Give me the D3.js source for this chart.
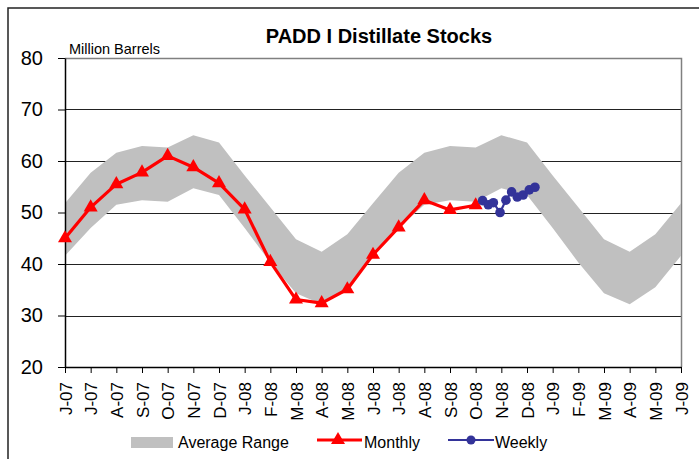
<!DOCTYPE html>
<head>
  <meta charset="utf-8">
  <script src="https://d3js.org/d3.v7.min.js"></script>
  <style>
    body { margin: 0; background: #fff; }
    svg { width: 699px; height: 459px; display: block; }
    text { font-family: "Liberation Sans", Arial, Helvetica, sans-serif; fill: #000; }
  </style>
</head>

<body>
  <svg></svg>

  <script>
    // month labels along the x axis (Jun-07 .. Jun-09)
    const months = ['J-07', 'J-07', 'A-07', 'S-07', 'O-07', 'N-07', 'D-07',
      'J-08', 'F-08', 'M-08', 'A-08', 'M-08', 'J-08', 'J-08', 'A-08', 'S-08',
      'O-08', 'N-08', 'D-08', 'J-09', 'F-09', 'M-09', 'A-09', 'M-09', 'J-09'];

    // average range band, low and high edge for each month
    const rangeLow = [41.6, 47.0, 51.5, 52.4, 52.1, 54.7, 53.4, 47.0, 40.3, 34.3, 32.2, 35.5,
      41.6, 47.0, 51.5, 52.4, 52.1, 54.7, 53.4, 47.0, 40.3, 34.3, 32.2, 35.5, 41.6];
    const rangeHigh = [51.8, 57.7, 61.6, 62.9, 62.6, 65.0, 63.6, 57.2, 51.0, 44.8, 42.4, 45.8,
      51.8, 57.7, 61.6, 62.9, 62.6, 65.0, 63.6, 57.2, 51.0, 44.8, 42.4, 45.8, 51.8];

    // monthly stocks, Jun-07 .. Oct-08
    const monthly = [45.0, 51.0, 55.5, 57.8, 61.0, 58.8, 55.7, 50.6, 40.4, 33.1, 32.4,
      35.1, 41.8, 47.1, 52.4, 50.5, 51.4];

    // weekly stocks, position given in months from Jun-07
    const weeklyPos = [16.27, 16.49, 16.69, 16.95, 17.18, 17.40, 17.62, 17.85, 18.09, 18.31];
    const weekly = [52.3, 51.5, 51.9, 50.0, 52.4, 54.0, 53.0, 53.4, 54.4, 54.9];

    const yTicks = [20, 30, 40, 50, 60, 70, 80];

    const pLeft = 65, pRight = 681, pTop = 58, pBottom = 367;
    const red = '#FF0000', blue = '#333399', gray = '#C0C0C0';

    const x = d3.scaleLinear().domain([0, months.length - 1]).range([pLeft, pRight]);
    const y = d3.scaleLinear().domain([20, 80]).range([pBottom, pTop]);

    const svg = d3.select('svg');

    // outer chart frame (runs off the picture on right and bottom)
    svg.append('rect')
      .attr('x', 8).attr('y', 8)
      .attr('width', 720).attr('height', 480)
      .attr('fill', 'none')
      .attr('stroke', '#222')
      .attr('stroke-width', 1.5);

    // gridlines
    svg.append('g')
      .selectAll('line')
      .data(yTicks.filter(d => d > 20 && d < 80))
      .join('line')
      .attr('x1', pLeft).attr('x2', pRight)
      .attr('y1', d => Math.round(y(d)) + 0.5)
      .attr('y2', d => Math.round(y(d)) + 0.5)
      .attr('stroke', '#222')
      .attr('stroke-width', 1.2);

    // plot area top and right edges
    svg.append('path')
      .attr('d', `M${pLeft},${pTop + 0.5}H${pRight + 0.5}V${pBottom}`)
      .attr('fill', 'none')
      .attr('stroke', '#808080')
      .attr('stroke-width', 1.5);

    // average range band
    const band = d3.area()
      .x((d, i) => x(i))
      .y0((d, i) => y(rangeLow[i]))
      .y1((d, i) => y(rangeHigh[i]));
    svg.append('path')
      .datum(months)
      .attr('d', band)
      .attr('fill', gray);

    // y axis
    const yAxis = svg.append('g')
      .attr('transform', `translate(${pLeft},0)`)
      .call(d3.axisLeft(y).tickValues(yTicks).tickSize(7).tickSizeOuter(0).tickPadding(15));
    yAxis.select('.domain').attr('stroke', '#000').attr('stroke-width', 1.5);
    yAxis.selectAll('.tick line').attr('stroke', '#000');
    yAxis.selectAll('text')
      .style('font-size', '20px')
      .attr('fill', '#000');

    // x axis
    const xAxis = svg.append('g')
      .attr('transform', `translate(0,${pBottom})`)
      .call(d3.axisBottom(x)
        .tickValues(d3.range(months.length))
        .tickFormat(i => months[i])
        .tickSize(6).tickSizeOuter(0));
    xAxis.select('.domain').attr('stroke', '#000').attr('stroke-width', 1.5);
    xAxis.selectAll('.tick line').attr('stroke', '#000');
    xAxis.selectAll('text')
      .style('font-size', '17px')
      .attr('fill', '#000')
      .attr('text-anchor', 'end')
      .attr('transform', 'rotate(-90)')
      .attr('x', -15)
      .attr('y', 0)
      .attr('dy', '0.36em');

    // monthly line with triangle markers
    const monthlyLine = d3.line()
      .x((d, i) => x(i))
      .y(d => y(d));
    svg.append('path')
      .datum(monthly)
      .attr('d', monthlyLine)
      .attr('fill', 'none')
      .attr('stroke', red)
      .attr('stroke-width', 3.2)
      .attr('stroke-linejoin', 'round');

    const tri = d3.symbol().type(d3.symbolTriangle).size(85);
    svg.append('g')
      .selectAll('path')
      .data(monthly)
      .join('path')
      .attr('d', tri)
      .attr('transform', (d, i) => `translate(${x(i)},${y(d)})`)
      .attr('fill', red);

    // weekly line with dot markers
    const weeklyLine = d3.line()
      .x((d, i) => x(weeklyPos[i]))
      .y(d => y(d));
    svg.append('path')
      .datum(weekly)
      .attr('d', weeklyLine)
      .attr('fill', 'none')
      .attr('stroke', blue)
      .attr('stroke-width', 2.2);

    svg.append('g')
      .selectAll('circle')
      .data(weekly)
      .join('circle')
      .attr('cx', (d, i) => x(weeklyPos[i]))
      .attr('cy', d => y(d))
      .attr('r', 4.8)
      .attr('fill', blue);

    // titles
    svg.append('text')
      .attr('x', 379).attr('y', 43)
      .attr('text-anchor', 'middle')
      .style('font-size', '20px')
      .style('font-weight', 'bold')
      .text('PADD I Distillate Stocks');

    svg.append('text')
      .attr('x', 69).attr('y', 54)
      .style('font-size', '14.5px')
      .text('Million Barrels');

    // legend
    const legend = svg.append('g').style('font-size', '16px');
    legend.append('rect')
      .attr('x', 131).attr('y', 437)
      .attr('width', 42).attr('height', 11)
      .attr('fill', gray);
    legend.append('text').attr('x', 178).attr('y', 448).text('Average Range');

    legend.append('line')
      .attr('x1', 317).attr('x2', 362)
      .attr('y1', 440).attr('y2', 440)
      .attr('stroke', red).attr('stroke-width', 3.2);
    legend.append('path')
      .attr('d', tri)
      .attr('transform', 'translate(338,440)')
      .attr('fill', red);
    legend.append('text').attr('x', 364).attr('y', 448).text('Monthly');

    legend.append('line')
      .attr('x1', 448).attr('x2', 494)
      .attr('y1', 440).attr('y2', 440)
      .attr('stroke', blue).attr('stroke-width', 2.2);
    legend.append('circle')
      .attr('cx', 471).attr('cy', 440).attr('r', 4.5)
      .attr('fill', blue);
    legend.append('text').attr('x', 495).attr('y', 448).text('Weekly');
  </script>
</body>
